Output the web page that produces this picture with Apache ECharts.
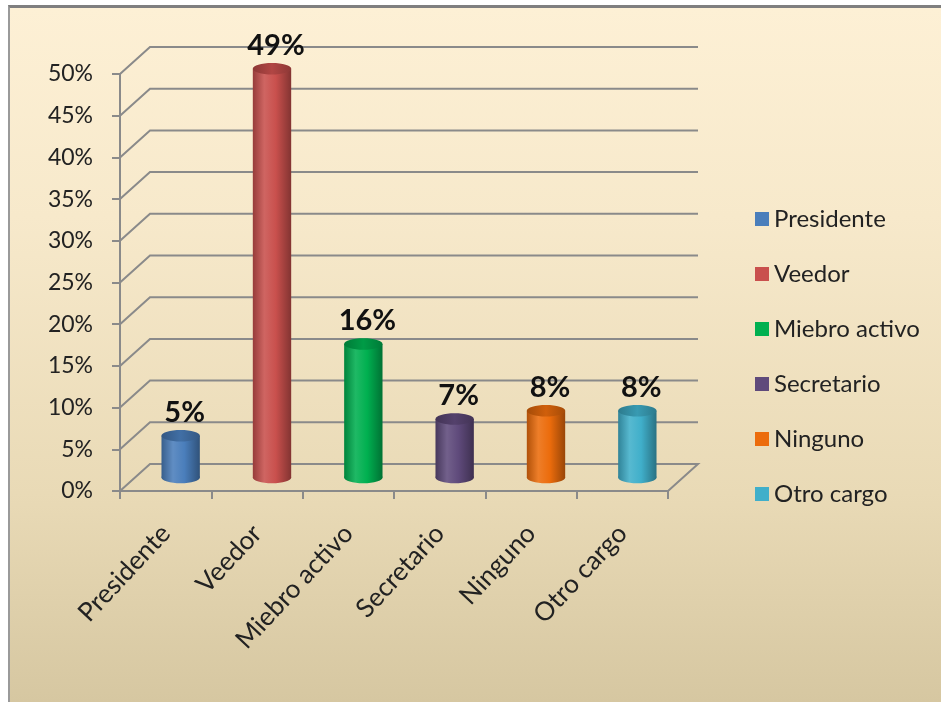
<!DOCTYPE html>
<html>
<head>
<meta charset="utf-8">
<title>Cargo</title>
<style>
  html, body { margin: 0; padding: 0; background: #ffffff; }
  #wrap { position: relative; width: 941px; height: 702px; overflow: hidden; }
  #frame {
    position: absolute; left: 8px; top: 5px; right: 0; bottom: 0;
    border-top: 3px solid #7f7f7f; border-left: 2px solid #9a9a9a;
    background: linear-gradient(to bottom, #fdf0d5 0%, #f7e9cb 30%, #e9dab6 70%, #d6c7a1 100%);
  }
  #chart { position: absolute; left: 0; top: 0; width: 941px; height: 702px; }
</style>
<script src="https://cdn.jsdelivr.net/npm/echarts@6/dist/echarts.min.js"></script>
</head>
<body>
<div id="wrap">
  <div id="frame"></div>
  <div id="chart"></div>
</div>
<script>
// Survey data: position held
const categories = ['Presidente', 'Veedor', 'Miebro activo', 'Secretario', 'Ninguno', 'Otro cargo'];
const values = [5, 49, 16, 7, 8, 8];
const yTicks = [0, 5, 10, 15, 20, 25, 30, 35, 40, 45, 50];
const colors = ['#4A7EBB', '#C9504D', '#00B050', '#5F4A7B', '#EC6C0C', '#40AFCA'];

// Depth of the pseudo-3D box (back wall offset from the front plane)
const DX = 30, DY = -27;
const FONT = 'Lato, "Open Sans", sans-serif';
const LINE = '#8a8a8a';

function mix(hex, amt) {
  const n = parseInt(hex.slice(1), 16);
  let r = (n >> 16) & 255, g = (n >> 8) & 255, b = n & 255;
  const t = amt > 0 ? 255 : 0, p = Math.abs(amt);
  r = Math.round(r + (t - r) * p);
  g = Math.round(g + (t - g) * p);
  b = Math.round(b + (t - b) * p);
  return 'rgb(' + r + ',' + g + ',' + b + ')';
}

function bodyFill(c) {
  return new echarts.graphic.LinearGradient(0, 0, 1, 0, [
    { offset: 0, color: mix(c, -0.25) },
    { offset: 0.3, color: mix(c, 0.12) },
    { offset: 0.6, color: c },
    { offset: 1, color: mix(c, -0.35) }
  ]);
}
function capFill(c) {
  return new echarts.graphic.LinearGradient(0, 0, 1, 0, [
    { offset: 0, color: mix(c, -0.3) },
    { offset: 0.5, color: mix(c, -0.12) },
    { offset: 1, color: mix(c, -0.3) }
  ]);
}

// Back wall and floor lines, projected from the front axis
function renderWall(params, api) {
  const cs = params.coordSys;
  const v = api.value(1);
  const y = api.coord([0, v])[1];
  const x0 = cs.x, x1 = cs.x + cs.width;
  const pts = [[x0, y], [x0 + DX, y + DY], [x1 + DX, y + DY]];
  if (v === 0) pts.push([x1, y]);
  return {
    type: 'polyline',
    shape: { points: pts },
    style: { stroke: LINE, lineWidth: 2, fill: null }
  };
}

// Cylinder bar sitting halfway into the box depth
function renderCylinder(params, api) {
  const idx = api.value(0), v = api.value(1);
  const top = api.coord([idx, v]);
  const base = api.coord([idx, 0]);
  const bw = api.size([1, 0])[0];
  const rx = bw * 0.21, ry = rx * 0.3;
  const cx = top[0] + DX / 2;
  const yt = top[1] + DY / 2, yb = base[1] + DY / 2;
  const c = api.visual('color');
  return {
    type: 'group',
    children: [
      { type: 'ellipse', shape: { cx: cx, cy: yb, rx: rx, ry: ry }, style: { fill: bodyFill(c) } },
      { type: 'rect', shape: { x: cx - rx, y: yt, width: rx * 2, height: yb - yt }, style: { fill: bodyFill(c) } },
      { type: 'ellipse', shape: { cx: cx, cy: yt, rx: rx, ry: ry }, style: { fill: capFill(c) } },
      {
        type: 'text',
        style: {
          text: v + '%', x: cx + 4, y: yt - ry - 3,
          align: 'center', verticalAlign: 'bottom',
          font: 'bold 29px ' + FONT, fill: '#111'
        }
      }
    ]
  };
}

const series = [{
  type: 'custom',
  name: 'wall',
  silent: true,
  z: 1,
  data: yTicks.map(function (t) { return [0, t]; }),
  renderItem: renderWall
}];

categories.forEach(function (name, i) {
  series.push({
    type: 'custom',
    name: name,
    z: 3,
    itemStyle: { color: colors[i] },
    data: [[i, values[i]]],
    renderItem: renderCylinder
  });
});

const chart = echarts.init(document.getElementById('chart'), null, { renderer: 'canvas' });
chart.setOption({
  backgroundColor: 'transparent',
  animation: false,
  grid: { left: 120, right: 273, top: 74, bottom: 211 },
  legend: {
    data: categories,
    orient: 'vertical',
    left: 750,
    top: 202,
    icon: 'rect',
    itemWidth: 14,
    itemHeight: 14,
    itemGap: 31,
    selectedMode: false,
    textStyle: { fontFamily: FONT, fontSize: 24, color: '#222' }
  },
  xAxis: {
    type: 'category',
    data: categories,
    boundaryGap: true,
    axisLine: { lineStyle: { color: LINE, width: 2 } },
    axisTick: { show: true, length: 8, lineStyle: { color: LINE, width: 2 } },
    axisLabel: { rotate: 47, margin: 38, interval: 0, fontFamily: FONT, fontSize: 26, color: '#222' },
    splitLine: { show: false }
  },
  yAxis: {
    type: 'value',
    min: 0,
    max: 50,
    interval: 5,
    axisLine: { show: true, lineStyle: { color: LINE, width: 2 } },
    axisTick: { show: true, length: 8, lineStyle: { color: LINE, width: 2 } },
    axisLabel: { formatter: '{value}%', margin: 27, fontFamily: FONT, fontSize: 23, color: '#222' },
    splitLine: { show: false }
  },
  series: series
});
</script>
</body>
</html>
